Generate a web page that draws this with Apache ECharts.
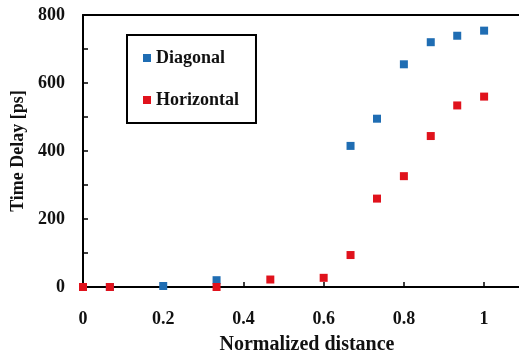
<!DOCTYPE html>
<html>
<head>
<meta charset="utf-8">
<script src="https://cdn.jsdelivr.net/npm/echarts@6/dist/echarts.min.js"></script>
<style>
  html, body { margin: 0; padding: 0; background: #fff; }
  #main { width: 519px; height: 353px; }
</style>
</head>
<body>
<div id="main"></div>
<script>
// values
const diagonal = [
    [0, 0], [0.067, 0], [0.2, 3], [0.333, 20], [0.667, 415], [0.733, 495],
    [0.8, 655], [0.867, 720], [0.933, 739], [1, 754]
];
const horizontal = [
    [0, 0], [0.067, 0], [0.333, 0], [0.467, 22], [0.6, 27], [0.667, 94],
    [0.733, 260], [0.8, 326], [0.867, 444], [0.933, 534], [1, 560]
];

let chart = echarts.init(document.getElementById('main'));
const serif = '"Liberation Serif", "Times New Roman", serif';

let opt = {
    backgroundColor: '#fff',
    animation: false,
    grid: { left: 83, top: 15, bottom: 66, right: 0, outerBoundsMode: 'none' },
    legend: {
        orient: 'vertical',
        left: 127, top: 35,
        padding: [14, 17, 14, 16],
        itemGap: 24,
        itemWidth: 8, itemHeight: 8,
        borderColor: '#000', borderWidth: 2,
        icon: 'rect',
        textStyle: { fontFamily: serif, fontWeight: 'bold', fontSize: 18, color: '#111' },
        data: ['Diagonal', 'Horizontal']
    },
    xAxis: [{
        type: 'value', min: 0, max: 1.087, interval: 0.2,
        name: 'Normalized distance', nameLocation: 'middle', nameGap: 48,
        nameTextStyle: { fontFamily: serif, fontWeight: 'bold', fontSize: 20, color: '#111', padding: [0, 0, 0, 12] },
        axisLine: { lineStyle: { color: '#000', width: 2 } },
        axisTick: { inside: true, length: 5, lineStyle: { color: '#000', width: 1.5 } },
        splitLine: { show: false },
        axisLabel: {
            margin: 23, fontFamily: serif, fontWeight: 'bold', fontSize: 18, color: '#111',
            showMaxLabel: false
        }
    }, {
        type: 'value', position: 'top', min: 0, max: 1.087,
        axisLine: { lineStyle: { color: '#000', width: 2 } },
        axisTick: { show: false }, axisLabel: { show: false }, splitLine: { show: false }
    }],
    yAxis: {
        type: 'value', min: 0, max: 800, interval: 200,
        name: 'Time Delay [ps]', nameLocation: 'middle', nameGap: 52,
        nameTextStyle: { fontFamily: serif, fontWeight: 'bold', fontSize: 18, color: '#111' },
        axisLine: { lineStyle: { color: '#000', width: 2 } },
        axisTick: { inside: true, length: 5, lineStyle: { color: '#000', width: 1.5 } },
        minorTick: { show: true, splitNumber: 2, length: 5, lineStyle: { color: '#000', width: 1.5 } },
        splitLine: { show: false },
        axisLabel: { margin: 18, fontFamily: serif, fontWeight: 'bold', fontSize: 18, color: '#111' }
    },
    series: [
        {
            name: 'Diagonal', type: 'scatter', symbol: 'rect', symbolSize: 8,
            itemStyle: { color: '#1f6db3', opacity: 1 }, data: diagonal
        },
        {
            name: 'Horizontal', type: 'scatter', symbol: 'rect', symbolSize: 8,
            itemStyle: { color: '#e0121c', opacity: 1 }, data: horizontal
        }
    ]
};
chart.setOption(opt);
</script>
</body>
</html>
